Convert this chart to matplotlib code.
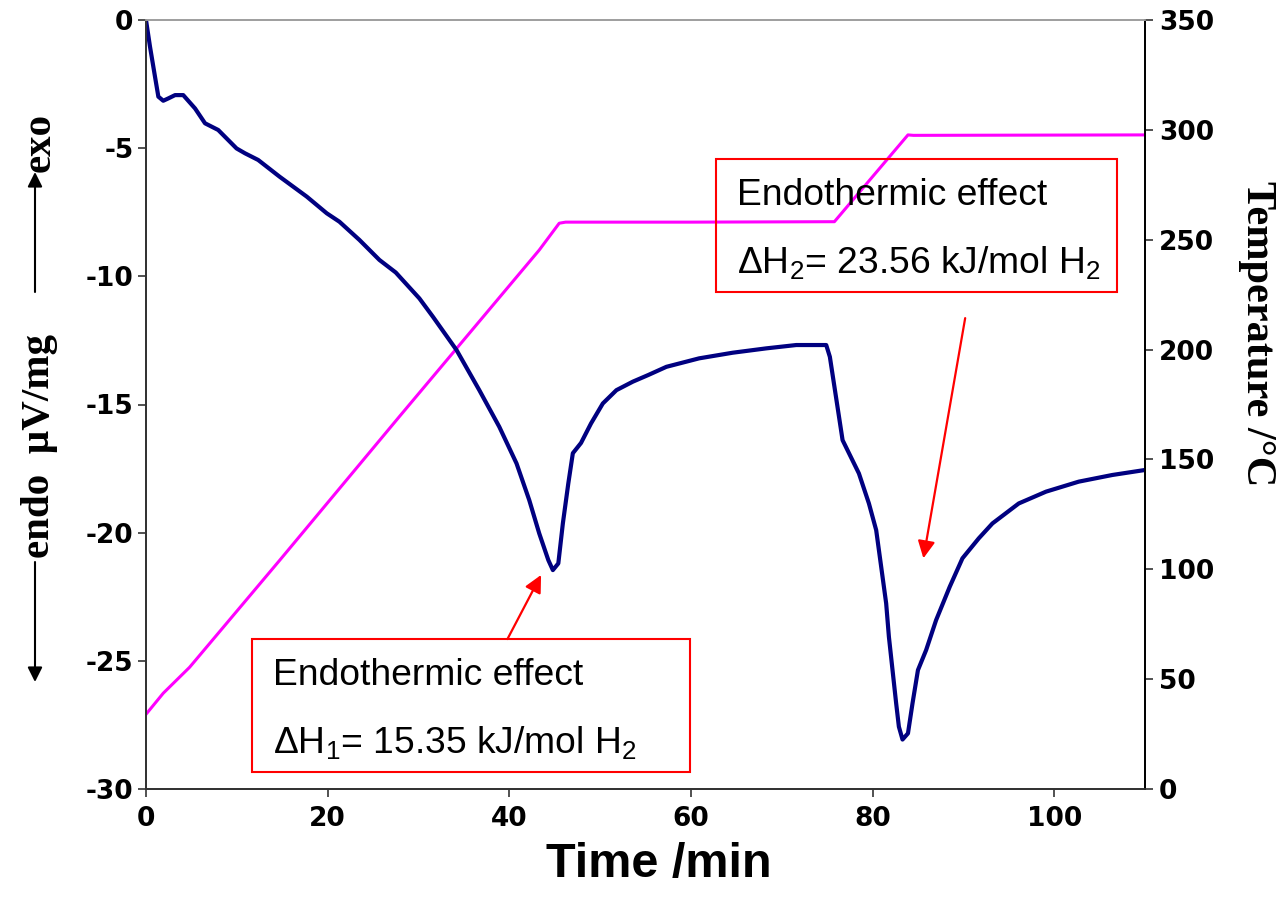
import matplotlib

matplotlib.use("Agg")
import matplotlib.pyplot as plt
from matplotlib.patches import Rectangle

plt.rcParams["axes.unicode_minus"] = False
plt.rcParams["mathtext.fontset"] = "custom"
plt.rcParams["mathtext.rm"] = "Liberation Sans"
plt.rcParams["mathtext.it"] = "Liberation Sans"

# DSC signal (uV/mg) against time (min)
dsc_time = [0, 0.44, 0.99, 1.36, 1.9, 2.45, 3.2, 4.1, 5.4, 6.5, 7.95, 9.97,
            10.9, 12.35, 14.7, 17.7, 19.9, 21.3, 23.5, 25.7, 27.5, 30.1, 31.6,
            32.5, 34.2, 36.7, 38.9, 40.8, 42.2, 43.3, 44.3, 44.8, 45.4, 45.9,
            46.5, 47.0, 47.9, 49.0, 50.3, 51.8, 53.6, 55.3, 57.3, 60.9, 64.6,
            68.3, 71.6, 74.9, 75.3, 75.8, 76.7, 77.6, 78.5, 79.6, 80.4, 80.9,
            81.5, 81.8, 82.2, 82.6, 82.9, 83.3, 83.9, 84.4, 85.0, 85.9, 87.0,
            88.5, 89.9, 91.7, 93.2, 96.1, 99.1, 102.7, 106.4, 109.9]
dsc_signal = [0, -1.04, -2.21, -2.99, -3.15, -3.06, -2.93, -2.93, -3.45, -4.03,
              -4.29, -5.01, -5.2, -5.46, -6.11, -6.89, -7.54, -7.87, -8.58,
              -9.36, -9.85, -10.86, -11.58, -12.03, -12.88, -14.44, -15.87,
              -17.3, -18.73, -20.03, -21.07, -21.46, -21.2, -19.64, -18.08,
              -16.9, -16.5, -15.74, -14.96, -14.44, -14.11, -13.85, -13.53,
              -13.2, -12.98, -12.81, -12.68, -12.68, -13.14, -14.3, -16.39,
              -17.04, -17.69, -18.86, -19.9, -21.2, -22.76, -24.06, -25.36,
              -26.66, -27.57, -28.07, -27.83, -26.66, -25.36, -24.58, -23.41,
              -22.11, -21.0, -20.22, -19.64, -18.86, -18.4, -18.01, -17.75,
              -17.56]

# temperature programme
temp_time = [0, 1.9, 4.8, 14.7, 27.9, 43.3, 45.5, 46.2, 60, 75.8, 83.9, 84.5, 110]
temp_c = [34, 43.6, 55.4, 104, 169.5, 245.3, 257.5, 258, 258, 258.2, 297.7, 297.5, 297.7]

x_ticks = [0, 20, 40, 60, 80, 100]
y_ticks = [0, -5, -10, -15, -20, -25, -30]
t_ticks = [0, 50, 100, 150, 200, 250, 300, 350]

# annotation targets (peaks) and arrow tails, in data units
peaks = [(43.5, -21.65), (85.6, -21.0)]
tails = [(39.8, -24.15), (90.2, -11.63)]
box_lines = [("Endothermic effect", r"ΔH$_1$= 15.35 kJ/mol H$_2$"),
             ("Endothermic effect", r"ΔH$_2$= 23.56 kJ/mol H$_2$")]

fig = plt.figure(figsize=(12.8, 9.19), dpi=100)
ax = fig.add_axes([146 / 1280, 1 - 789 / 919, 999 / 1280, 769 / 919])
ax2 = ax.twinx()
ax.set_zorder(ax2.get_zorder() + 1)
ax.patch.set_visible(False)

ax2.plot(temp_time, temp_c, color="#ff00ff", lw=2.2)
ax.plot(dsc_time, dsc_signal, color="#000080", lw=3.0)

ax.set_xlim(0, 110)
ax.set_ylim(-30, 0)
ax2.set_ylim(0, 350)
ax.set_xticks(x_ticks)
ax.set_yticks(y_ticks)
ax2.set_yticks(t_ticks)

tick_font = dict(family="DejaVu Sans", weight="bold", size=19)
for a in (ax, ax2):
    for lab in a.get_xticklabels() + a.get_yticklabels():
        lab.set_fontproperties(matplotlib.font_manager.FontProperties(**tick_font))
ax.tick_params(axis="both", direction="out", length=6, width=1.2, pad=3, colors="#333333",
               labelcolor="black")
ax.tick_params(axis="x", pad=6)
ax2.tick_params(axis="y", direction="out", length=6, width=1.2, pad=4, colors="#333333",
                labelcolor="black")

for a in (ax, ax2):
    a.spines["top"].set_color("#a0a0a0")
    a.spines["left"].set_color("#333333")
    a.spines["bottom"].set_color("#333333")
    a.spines["right"].set_color("black")
    for s in a.spines.values():
        s.set_linewidth(1.3)

# red boxes with text
boxes = [(0.106, 0.022, 0.4385, 0.173), (0.5706, 0.646, 0.4014, 0.173)]
text_pos = [((0.127, 0.135), (0.127, 0.047)), ((0.5916, 0.759), (0.5916, 0.671))]
for (x0, y0, w, h), lines, pos in zip(boxes, box_lines, text_pos):
    ax.add_patch(Rectangle((x0, y0), w, h, transform=ax.transAxes, fill=False,
                           edgecolor="#ff0000", lw=1.5, zorder=1))
    for txt, (tx, ty) in zip(lines, pos):
        ax.text(tx, ty, txt, transform=ax.transAxes, family="Liberation Sans",
                fontsize=26.8, va="baseline", ha="left", zorder=1)

for tip, tail in zip(peaks, tails):
    ax.annotate("", xy=tip, xytext=tail,
                arrowprops=dict(arrowstyle="-|>", color="#ff0000", lw=1.6,
                                mutation_scale=26, shrinkA=0, shrinkB=0))

# axis titles
fig.text(659 / 1280, 1 - 864 / 919, "Time /min", family="Liberation Sans",
         weight="bold", fontsize=35, ha="center", va="center")
fig.text(1257 / 1280, 1 - 334 / 919, "Temperature /°C", family="Liberation Serif",
         weight="bold", fontsize=30.5, rotation=270, ha="center", va="center")
fig.text(40 / 1280, 1 - 446 / 919, "endo  µV/mg", family="Liberation Serif",
         weight="bold", fontsize=29.5, rotation=90, ha="center", va="center")
fig.text(40 / 1280, 1 - 143 / 919, "exo", family="Liberation Serif",
         weight="bold", fontsize=29.5, rotation=90, ha="center", va="center")
arrow_kw = dict(arrowstyle="-|>", color="black", lw=1.5, mutation_scale=22,
                shrinkA=0, shrinkB=0)
fig.add_artist(matplotlib.patches.FancyArrowPatch(
    (35 / 1280, 1 - 562 / 919), (35 / 1280, 1 - 682 / 919),
    transform=fig.transFigure, **arrow_kw))
fig.add_artist(matplotlib.patches.FancyArrowPatch(
    (35 / 1280, 1 - 292 / 919), (35 / 1280, 1 - 172 / 919),
    transform=fig.transFigure, **arrow_kw))

fig.savefig("out.png", dpi=100)
